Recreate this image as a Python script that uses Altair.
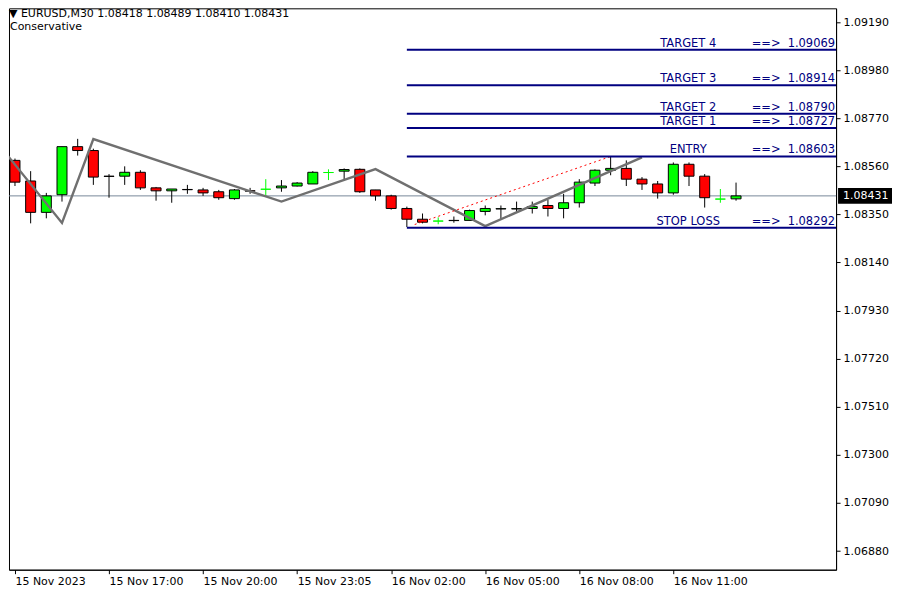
import json
import altair as alt
import pandas as pd

# ---------------- data ----------------
opens = [1.08586, 1.08496, 1.08359, 1.08436, 1.08646, 1.08629, 1.08517, 1.08517, 1.08534, 1.08466,
         1.08453, 1.08459, 1.08457, 1.08449, 1.08419, 1.08453, 1.08460, 1.08466, 1.08474, 1.08483,
         1.08533, 1.08539, 1.08547, 1.08457, 1.08431, 1.08376, 1.08329, 1.08321, 1.08323, 1.08324,
         1.08363, 1.08374, 1.08374, 1.08376, 1.08389, 1.08376, 1.08401, 1.08487, 1.08543, 1.08551,
         1.08504, 1.08483, 1.08444, 1.08569, 1.08517, 1.08417, 1.08418]
highs = [1.08594, 1.08539, 1.08444, 1.08646, 1.08680, 1.08637, 1.08526, 1.08560, 1.08543, 1.08470,
         1.08461, 1.08479, 1.08466, 1.08457, 1.08461, 1.08466, 1.08504, 1.08500, 1.08491, 1.08539,
         1.08547, 1.08551, 1.08551, 1.08457, 1.08436, 1.08384, 1.08354, 1.08337, 1.08341, 1.08371,
         1.08389, 1.08389, 1.08406, 1.08406, 1.08414, 1.08440, 1.08504, 1.08547, 1.08603, 1.08586,
         1.08513, 1.08496, 1.08577, 1.08577, 1.08526, 1.08461, 1.08489]
lows = [1.08474, 1.08311, 1.08333, 1.08406, 1.08607, 1.08479, 1.08423, 1.08479, 1.08457, 1.08410,
        1.08401, 1.08440, 1.08431, 1.08414, 1.08414, 1.08440, 1.08431, 1.08449, 1.08472, 1.08483,
        1.08500, 1.08504, 1.08444, 1.08410, 1.08371, 1.08295, 1.08311, 1.08307, 1.08314, 1.08324,
        1.08346, 1.08329, 1.08359, 1.08354, 1.08341, 1.08333, 1.08380, 1.08474, 1.08521, 1.08474,
        1.08457, 1.08419, 1.08436, 1.08474, 1.08380, 1.08401, 1.08410]
closes = [1.08491, 1.08359, 1.08431, 1.08646, 1.08629, 1.08513, 1.08516, 1.08534, 1.08466, 1.08453,
          1.08461, 1.08458, 1.08444, 1.08423, 1.08457, 1.08452, 1.08460, 1.08474, 1.08487, 1.08534,
          1.08533, 1.08546, 1.08449, 1.08431, 1.08376, 1.08329, 1.08316, 1.08321, 1.08324, 1.08367,
          1.08376, 1.08375, 1.08375, 1.08384, 1.08376, 1.08401, 1.08491, 1.08543, 1.08551, 1.08504,
          1.08483, 1.08444, 1.08569, 1.08517, 1.08423, 1.08417, 1.08431]

time_ticks = [0, 6, 12, 18, 24, 30, 36, 42]
time_labels = ["15 Nov 2023", "15 Nov 17:00", "15 Nov 20:00", "15 Nov 23:05",
               "16 Nov 02:00", "16 Nov 05:00", "16 Nov 08:00", "16 Nov 11:00"]
price_ticks = [1.06880, 1.07090, 1.07300, 1.07510, 1.07720, 1.07930,
               1.08140, 1.08350, 1.08560, 1.08770, 1.08980, 1.09190]

zz_idx = [-0.5, 3, 5, 17, 23, 30, 40]
zz_price = [1.08610, 1.08313, 1.08679, 1.08406, 1.08548, 1.08299, 1.08599]

proj_idx = [25.5, 38]
proj_price = [1.08306, 1.08603]

level_names = ["TARGET 4", "TARGET 3", "TARGET 2", "TARGET 1", "ENTRY", "STOP LOSS"]
level_prices = [1.09069, 1.08914, 1.08790, 1.08727, 1.08603, 1.08292]
level_start = 25

header_line = "\u25BC EURUSD,M30  1.08418 1.08489 1.08410 1.08431"
strategy = "Conservative"
bid = 1.08431

# ---------------- frames ----------------
rows = []
for i, (o, h, l, c) in enumerate(zip(opens, highs, lows, closes)):
    d = round(c - o, 6)
    if d > 0:
        fill, stroke = "#00ff00", "#000000"
    elif d < 0:
        fill, stroke = "#ff0000", "#000000"
    else:
        fill, stroke = "#00ff00", "#00ff00"
    rows.append(dict(i=i, o=o, h=h, l=l, c=c, fill=fill, stroke=stroke))
candles = pd.DataFrame(rows)

zz = pd.DataFrame({"i": zz_idx, "p": zz_price})
proj = pd.DataFrame({"i": proj_idx, "p": proj_price})
levels = pd.DataFrame({"name": level_names, "p": level_prices,
                       "i": [level_start] * len(level_names),
                       "val": [f"{v:.5f}" for v in level_prices]})
bid_df = pd.DataFrame({"p": [bid], "txt": [f"{bid:.5f}"]})
hdr = pd.DataFrame({"a": [header_line], "b": [strategy]})

W, H = 828, 562
FONT = "DejaVu Sans"
xs = alt.Scale(domain=[-0.0625, 52.0625], nice=False, zero=False)
ys = alt.Scale(domain=[1.067986, 1.0925], nice=False, zero=False)

x_axis = alt.Axis(values=time_ticks, labelExpr=f"{json.dumps(time_labels)}[round(datum.value/6)]",
                  grid=False, tickSize=4, tickColor="black", domainColor="black",
                  labelAlign="left", labelBaseline="top", labelPadding=2, labelFlush=False,
                  labelOverlap=False, labelColor="black", labelFont=FONT, labelFontSize=11, title=None)
y_axis = alt.Axis(orient="right", values=price_ticks, format=".5f", grid=False, tickSize=4,
                  tickColor="black", domainColor="black", labelPadding=3, labelFlush=False,
                  labelOverlap=False, labelColor="black", labelFont=FONT, labelFontSize=11, title=None)

def X(f):
    return alt.X(f, type="quantitative", scale=xs, axis=x_axis)

def Y(f):
    return alt.Y(f, type="quantitative", scale=ys, axis=y_axis)

base = alt.Chart(candles)

bid_line = alt.Chart(bid_df).mark_rule(color="#778899", strokeWidth=1).encode(y=Y("p"))

wicks = base.mark_rule(strokeWidth=1, clip=True).encode(
    x=X("i"), y=Y("l"), y2="h", color=alt.Color("stroke:N", scale=None))

bodies = base.mark_bar(size=10, strokeWidth=1, clip=True).encode(
    x=X("i"), y=Y("o"), y2="c",
    fill=alt.Fill("fill:N", scale=None), stroke=alt.Stroke("stroke:N", scale=None))

zigzag = alt.Chart(zz).mark_line(color="#707070", strokeWidth=2.4, clip=True).encode(
    x=X("i"), y=Y("p"))

projection = alt.Chart(proj).mark_line(color="#ff0000", strokeWidth=1, strokeDash=[2, 3], clip=True).encode(
    x=X("i"), y=Y("p"))

level_lines = alt.Chart(levels).mark_rule(color="#000080", strokeWidth=2).encode(
    x=X("i"), x2=alt.value(W), y=Y("p"))

level_names_t = alt.Chart(levels).mark_text(color="#000080", font=FONT, fontSize=11.5,
                                             align="center", baseline="alphabetic", dy=-3).encode(
    x=alt.value(680), y=Y("p"), text="name:N")
level_arrows = alt.Chart(levels).mark_text(color="#000080", font=FONT, fontSize=11.5,
                                            align="center", baseline="alphabetic", dy=-3).encode(
    x=alt.value(758), y=Y("p"), text=alt.value("==>"))
level_vals = alt.Chart(levels).mark_text(color="#000080", font=FONT, fontSize=11.5,
                                          align="right", baseline="alphabetic", dy=-3).encode(
    x=alt.value(W - 1), y=Y("p"), text="val:N")

bid_box = alt.Chart(bid_df).mark_rect(color="black", height=16).encode(
    x=alt.value(W + 2), x2=alt.value(W + 56), y=Y("p"))
bid_txt = alt.Chart(bid_df).mark_text(color="white", font=FONT, fontSize=11, align="left",
                                       baseline="middle").encode(
    x=alt.value(W + 7), y=Y("p"), text="txt:N")

hdr1 = alt.Chart(hdr).mark_text(color="black", font=FONT, fontSize=11, align="left",
                                baseline="alphabetic").encode(
    x=alt.value(0), y=alt.value(9), text="a:N")
hdr2 = alt.Chart(hdr).mark_text(color="black", font=FONT, fontSize=11, align="left",
                                baseline="alphabetic").encode(
    x=alt.value(1), y=alt.value(22), text="b:N")

chart = alt.layer(
    bid_line, wicks, bodies, zigzag, projection, level_lines,
    level_names_t, level_arrows, level_vals, bid_box, bid_txt, hdr1, hdr2
).properties(width=W, height=H, padding=0, background="white").configure_view(
    stroke="black", strokeWidth=1
)

chart.save("out.html", embed_options={"renderer": "svg", "actions": False})
